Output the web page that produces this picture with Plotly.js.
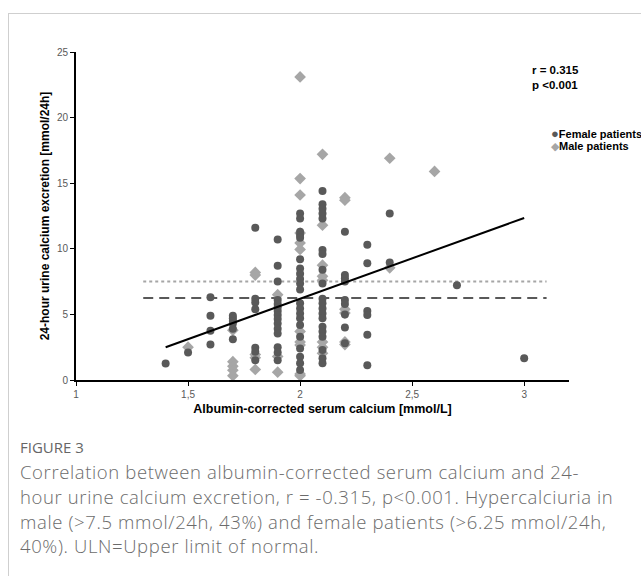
<!DOCTYPE html>
<html>
<head>
<meta charset="utf-8">
<script src="https://cdn.plot.ly/plotly-3.0.1.min.js"></script>
<style>
  html, body { margin: 0; padding: 0; background: #fff; }
  #frame { position: absolute; left: 8px; top: 13px; width: 700px; height: 700px;
           border-left: 1px solid #cfcfcf; border-top: 1px solid #cfcfcf; }
  #chart { position: absolute; left: 0; top: 0; width: 641px; height: 576px; }
  #cap { position: absolute; left: 20px; top: 434px; width: 615px;
         font-family: "Open Sans", sans-serif; color: #6b6b6b; }
  #cap .fig { font-size: 15px; line-height: 26px; color: #666; font-weight: 500; }
  #cap .txt { font-size: 18.5px; line-height: 24.8px; font-weight: 300; letter-spacing: 0.62px; white-space: nowrap; }
</style>
</head>
<body>
<div id="frame"></div>
<div id="chart"></div>
<div id="cap">
  <div class="fig">FIGURE 3</div>
  <div class="txt">Correlation between albumin-corrected serum calcium and 24-<br>hour urine calcium excretion, r = -0.315, p&lt;0.001. Hypercalciuria in<br>male (&gt;7.5 mmol/24h, 43%) and female patients (&gt;6.25 mmol/24h,<br>40%). ULN=Upper limit of normal.</div>
</div>
<script>
// Female patients (albumin-corrected serum calcium, 24h urine calcium)
var femaleX = [1.4, 1.5,
  1.6,1.6,1.6,1.6,
  1.7,1.7,1.7,1.7,1.7,1.7,
  1.8,1.8,1.8,1.8,1.8,1.8,1.8,
  1.9,1.9,1.9,1.9,1.9,1.9,1.9,1.9,1.9,1.9,1.9,1.9,1.9,1.9,1.9,
  2.0,2.0,2.0,2.0,2.0,2.0,2.0,2.0,2.0,2.0,2.0,2.0,2.0,2.0,2.0,2.0,2.0,2.0,2.0,2.0,2.0,
  2.1,2.1,2.1,2.1,2.1,2.1,2.1,2.1,2.1,2.1,2.1,2.1,2.1,2.1,2.1,2.1,2.1,2.1,2.1,2.1,
  2.2,2.2,2.2,2.2,2.2,2.2,2.2,2.2,2.2,
  2.3,2.3,2.3,2.3,2.3,2.3,
  2.4,2.4, 2.7, 3.0];
var femaleY = [1.25, 2.1,
  6.3,4.9,3.75,2.7,
  4.9,4.7,4.5,4.3,3.9,3.1,
  11.6,6.2,5.9,5.4,2.45,2.15,1.5,
  10.7,8.7,7.5,6.1,5.8,5.55,5.25,4.95,4.65,4.3,3.9,3.55,2.5,2.1,1.5,
  12.7,12.3,11.3,11.05,10.85,9.2,8.5,8.1,7.7,7.35,6.9,5.85,5.45,5.07,4.7,4.2,3.3,2.4,1.77,1.27,0.76,
  14.4,13.4,13.05,12.7,12.3,9.9,9.6,8.4,7.35,6.2,5.85,5.45,5.07,4.7,4.05,3.7,3.3,2.28,1.65,1.27,
  11.3,8.0,7.75,7.5,6.1,5.8,5.0,4.0,2.8,
  10.3,8.9,5.25,4.95,3.45,1.12,
  12.7,8.95, 7.23, 1.65];
// Male patients
var maleX = [1.5,
  1.7,1.7,1.7,1.7,1.7,
  1.8,1.8,1.8,1.8,1.8,
  1.9,1.9,1.9,
  2.0,2.0,2.0,2.0,2.0,2.0,2.0,2.0,2.0,2.0,2.0,
  2.1,2.1,2.1,2.1,2.1,2.1,2.1,2.1,
  2.2,2.2,2.2,2.2,2.2,2.2,
  2.4,2.4, 2.6];
var maleY = [2.5,
  3.8,1.4,1.05,0.75,0.33,
  8.2,8.0,1.95,1.7,0.8,
  6.5,1.8,0.6,
  23.1,15.35,14.1,11.2,10.45,9.95,3.7,2.9,2.66,0.45,0.33,
  17.2,11.8,8.75,7.9,7.6,2.9,2.5,2.03,
  13.9,13.7,5.4,5.1,2.9,2.7,
  16.9,8.55, 15.9];
// Regression line and upper limits of normal
var fitX = [1.4, 3.0];
var fitY = [2.5, 12.35];
var ulnX = [1.3, 3.1];
var ulnFemale = [6.25, 6.25];
var ulnMale = [7.5, 7.5];
var xTicks = [1, 1.5, 2, 2.5, 3];
var xTickText = ["1", "1,5", "2", "2,5", "3"];
var yTicks = [0, 5, 10, 15, 20, 25];

var femaleColor = "#595959", maleColor = "#a6a6a6";
var traces = [
  {x: ulnX, y: ulnMale, mode: "lines", line: {color: "#a6a6a6", width: 2, dash: "dot"}, hoverinfo: "skip", showlegend: false},
  {x: ulnX, y: ulnFemale, mode: "lines", line: {color: "#595959", width: 2.2, dash: "10px,6px"}, hoverinfo: "skip", showlegend: false},
  {x: maleX, y: maleY, mode: "markers", name: "Male patients",
   marker: {symbol: "diamond", size: 9, color: maleColor}, showlegend: false},
  {x: femaleX, y: femaleY, mode: "markers", name: "Female patients",
   marker: {symbol: "circle", size: 8, color: femaleColor}, showlegend: false},
  {x: fitX, y: fitY, mode: "lines", line: {color: "#000", width: 2}, hoverinfo: "skip", showlegend: false}
];

var font = "Liberation Sans, Arial, sans-serif";
var layout = {
  width: 641, height: 576,
  margin: {l: 76, r: 72, t: 51.5, b: 196},
  paper_bgcolor: "rgba(0,0,0,0)", plot_bgcolor: "rgba(0,0,0,0)",
  showlegend: false,
  xaxis: {range: [1, 3.2], tickvals: xTicks, ticktext: xTickText, showgrid: false, zeroline: false,
          showline: true, linecolor: "#000", linewidth: 2, ticks: "outside", ticklen: 4, tickcolor: "#000",
          tickfont: {family: font, size: 10, color: "#595959"},
          title: {text: "<b>Albumin-corrected serum calcium [mmol/L]</b>", font: {family: font, size: 12.5, color: "#000"}, standoff: 5}},
  yaxis: {range: [0, 25], tickvals: yTicks, showgrid: false, zeroline: false,
          showline: true, linecolor: "#000", linewidth: 2, ticks: "outside", ticklen: 4, tickcolor: "#000",
          tickfont: {family: font, size: 10, color: "#595959"},
          title: {text: "<b>24-hour urine calcium excretion [mmol/24h]</b>", font: {family: font, size: 12, color: "#000"}, standoff: 5}},
  annotations: [
    {xref: "paper", yref: "paper", x: 0.921, y: 0.922, xanchor: "left", yanchor: "middle", align: "left", showarrow: false,
     text: "<b>r = 0.315<br>p <0.001</b>", font: {family: font, size: 11.5, color: "#000"}},
    {xref: "paper", yref: "paper", x: 0.96, y: 0.752, xanchor: "left", yanchor: "middle", align: "left", showarrow: false,
     text: "<span style='color:#595959;font-size:13px'>●</span><b>Female patients</b>", font: {family: font, size: 11, color: "#000"}},
    {xref: "paper", yref: "paper", x: 0.96, y: 0.712, xanchor: "left", yanchor: "middle", align: "left", showarrow: false,
     text: "<span style='color:#a6a6a6;font-size:11px'>◆</span><b>Male patients</b>", font: {family: font, size: 11, color: "#000"}}
  ]
};
Plotly.newPlot("chart", traces, layout, {displayModeBar: false, staticPlot: true});
</script>
</body>
</html>
